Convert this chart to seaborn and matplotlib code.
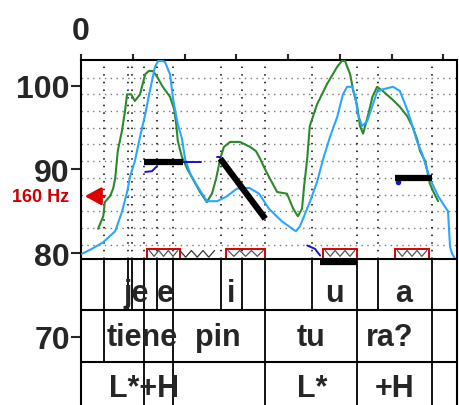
import numpy as np
import matplotlib
matplotlib.use("Agg")
import matplotlib.pyplot as plt
import seaborn as sns

# ---- data (time in s, pitch in semitones-like scale) ----
time_blue = [0.002, 0.021, 0.043, 0.066, 0.079, 0.089, 0.095, 0.104, 0.114, 0.124, 0.133, 0.143,
             0.149, 0.157, 0.162, 0.172, 0.178, 0.187, 0.195, 0.201, 0.211, 0.222, 0.234, 0.243,
             0.263, 0.282, 0.301, 0.325, 0.344, 0.363, 0.388, 0.415, 0.423, 0.442, 0.456, 0.468,
             0.481, 0.495, 0.506, 0.514, 0.524, 0.530, 0.535, 0.543, 0.553, 0.564, 0.572, 0.583,
             0.603, 0.616, 0.630, 0.641, 0.649, 0.659, 0.674, 0.690, 0.709, 0.713, 0.717, 0.722]
pitch_blue = [79.9, 80.5, 81.3, 82.6, 84.9, 87.3, 89.2, 91.0, 93.9, 96.6, 99.4, 102.3,
              103.0, 103.0, 102.9, 101.4, 98.4, 95.4, 93.7, 91.3, 89.5, 88.3, 87.1, 86.2,
              86.2, 86.8, 87.7, 87.8, 87.1, 85.3, 83.8, 82.6, 83.2, 86.1, 88.5, 91.3,
              93.9, 96.3, 99.0, 99.9, 99.9, 98.7, 96.6, 95.2, 95.8, 97.8, 99.3, 99.6,
              99.9, 99.4, 97.2, 95.1, 93.4, 91.9, 88.9, 86.8, 85.0, 80.7, 79.9, 79.4]

time_green = [0.033, 0.043, 0.046, 0.056, 0.062, 0.066, 0.071, 0.079, 0.085, 0.089, 0.097, 0.104,
              0.114, 0.124, 0.131, 0.139, 0.147, 0.158, 0.172, 0.180, 0.184, 0.187, 0.195, 0.205,
              0.214, 0.230, 0.243, 0.253, 0.261, 0.269, 0.276, 0.288, 0.307, 0.327, 0.338, 0.346,
              0.355, 0.365, 0.379, 0.398, 0.410, 0.419, 0.427, 0.431, 0.437, 0.442, 0.456, 0.475,
              0.495, 0.504, 0.510, 0.520, 0.526, 0.533, 0.539, 0.545, 0.555, 0.563, 0.572, 0.583,
              0.603, 0.616, 0.630, 0.640, 0.649, 0.655, 0.665, 0.674, 0.681, 0.690]
pitch_green = [82.9, 84.4, 86.1, 86.8, 87.7, 88.9, 92.2, 94.6, 97.0, 99.0, 99.0, 98.2,
               99.0, 101.4, 101.8, 101.8, 101.1, 99.9, 98.7, 97.2, 95.4, 93.4, 91.5, 90.1,
               89.1, 87.3, 86.1, 87.1, 88.9, 91.3, 92.7, 93.3, 93.3, 92.7, 92.2, 91.3,
               90.1, 88.9, 87.3, 87.1, 85.3, 84.4, 85.3, 88.0, 91.3, 95.2, 97.8, 100.2,
               102.3, 103.0, 103.0, 101.4, 99.4, 97.8, 95.2, 94.3, 96.6, 98.7, 99.9, 99.4,
               98.3, 97.5, 96.4, 95.2, 93.7, 92.2, 91.0, 88.3, 87.3, 86.2]

# stylized pitch targets (black bars)
target_t0 = [0.122, 0.269, 0.607, 0.462]
target_t1 = [0.197, 0.356, 0.678, 0.533]
target_v0 = [90.9, 91.3, 89.0, 78.9]
target_v1 = [90.9, 84.1, 89.0, 78.9]

# small dark-blue traces
hook_t = [0.124, 0.137, 0.147]
hook_v = [89.7, 89.8, 90.4]
cont_t = [0.197, 0.232]
cont_v = [90.9, 90.9]
tick_t = [0.263, 0.269]
tick_v = [91.5, 91.5]
low_t = [0.437, 0.452, 0.462]
low_v = [80.9, 80.5, 79.7]
dot_t = [0.612]
dot_v = [88.5]

# red boxes at the bottom of the pitch panel
box_t0 = [0.128, 0.280, 0.468, 0.607]
box_t1 = [0.191, 0.356, 0.533, 0.672]
zig_t0, zig_t1 = 0.191, 0.258

# tiers
phone_bounds = [0.044, 0.091, 0.099, 0.122, 0.147, 0.178, 0.270, 0.311, 0.356,
                0.446, 0.533, 0.574, 0.678]
phone_labels = ['je', 'e', 'i', 'u', 'a']
phone_pos = [0.106, 0.162, 0.290, 0.489, 0.624]
word_bounds = [0.044, 0.122, 0.178, 0.356, 0.533, 0.678]
word_labels = ['tiene', 'pin', 'tu', 'ra?']
word_pos = [0.118, 0.265, 0.445, 0.596]
tone_bounds = [0.122, 0.178, 0.356, 0.533, 0.678]
tone_labels = ['L*+H', 'L*', '+H']
tone_pos = [0.122, 0.446, 0.605]

grid_levels = [81, 83, 85, 87, 89, 91, 93, 95, 97, 99, 101]
y_ticks = [70, 80, 90, 100]
x_ticks = [0, 0.1, 0.2, 0.3, 0.4, 0.5, 0.6, 0.7]
ref_level = 86.8

# ---- plotting ----
sns.set_style("white")
plt.rcParams['font.family'] = ['Liberation Sans', 'DejaVu Sans']

fig = plt.figure(figsize=(4.59, 4.06), dpi=100)
ax = fig.add_axes([81 / 459, 0, 376 / 459, 345 / 406])
ax.set_xlim(0, 0.7264)
ax.set_ylim(61.8, 103.11)

panel_bottom = 79.3
row1_bottom = 73.15
row2_bottom = 66.95

# dotted grid
for g in grid_levels:
    ax.plot([0, 0.7264], [g, g], color='#777777', lw=1.0, ls=(0, (1, 3.2)), zorder=1)
for b in phone_bounds:
    ax.plot([b, b], [panel_bottom, 103.11], color='black', lw=1.1, ls=(0, (1, 4)), zorder=1)

# pitch curves
sns.lineplot(x=time_green, y=pitch_green, color='#2a8a2a', lw=1.5, estimator=None,
             sort=False, ax=ax, zorder=3)
sns.lineplot(x=time_blue, y=pitch_blue, color='#2aa6ff', lw=1.5, estimator=None,
             sort=False, ax=ax, zorder=3)

# dark blue traces
for tt, vv in [(hook_t, hook_v), (cont_t, cont_v), (tick_t, tick_v), (low_t, low_v)]:
    ax.plot(tt, vv, color='#1515cc', lw=1.4, zorder=4)
ax.plot(dot_t, dot_v, 'o', color='#1515cc', ms=3, zorder=4)

# black targets
for a0, a1, b0, b1 in zip(target_t0, target_t1, target_v0, target_v1):
    ax.plot([a0, a1], [b0, b1], color='black', lw=4.5, solid_capstyle='butt', zorder=5)

# red boxes with zigzags
for a0, a1 in zip(box_t0, box_t1):
    ax.add_patch(plt.Rectangle((a0, panel_bottom), a1 - a0, 1.2, fill=False,
                               edgecolor='#dd0000', lw=1.4, zorder=4))
    zx = np.linspace(a0 + 0.004, a1 - 0.004, 7)
    zy = np.where(np.arange(7) % 2 == 0, 80.3, 79.6)
    ax.plot(zx, zy, color='#555555', lw=0.9, zorder=4)
zx = np.linspace(zig_t0, zig_t1, 7)
zy = np.where(np.arange(7) % 2 == 0, 80.3, 79.5)
ax.plot(zx, zy, color='#333333', lw=0.9, zorder=4)

# tier lines
for lv in [panel_bottom, row1_bottom, row2_bottom]:
    ax.plot([0, 0.7264], [lv, lv], color='black', lw=1.5, zorder=6)
for b in phone_bounds:
    ax.plot([b, b], [row1_bottom, panel_bottom], color='black', lw=1.3, zorder=6)
for b in word_bounds:
    ax.plot([b, b], [row2_bottom, row1_bottom], color='black', lw=1.3, zorder=6)
for b in tone_bounds:
    ax.plot([b, b], [61.8, row2_bottom], color='black', lw=1.3, zorder=6)

# tier labels
for lab, p in zip(phone_labels, phone_pos):
    ax.text(p, 74.3, lab, ha='center', va='baseline', fontsize=22, fontweight='bold', zorder=7)
for lab, p in zip(word_labels, word_pos):
    ax.text(p, 69.0, lab, ha='center', va='baseline', fontsize=22, fontweight='bold', zorder=7)
for lab, p in zip(tone_labels, tone_pos):
    ax.text(p, 62.9, lab, ha='center', va='baseline', fontsize=22, fontweight='bold', zorder=7)

# reference arrow
ax.annotate('', xy=(0.002, ref_level), xytext=(0.050, ref_level),
            arrowprops=dict(arrowstyle='-|>,head_length=0.55,head_width=0.3',
                            color='#dd0000', lw=2, mutation_scale=18), zorder=8)
ax.text(-0.079, ref_level, '160 Hz', color='#cc0000', ha='center', va='center',
        fontsize=13, fontweight='bold', clip_on=False)

# axes styling
ax.xaxis.tick_top()
ax.set_xticks(x_ticks)
ax.set_xticklabels(['0'] + [''] * (len(x_ticks) - 1))
ax.tick_params(axis='x', top=True, bottom=False, direction='out', length=4, width=1.5,
               pad=6, labelsize=23)
ax.set_yticks(y_ticks)
ax.set_yticklabels([str(v) for v in y_ticks])
ax.tick_params(axis='y', left=True, direction='out', length=7, width=1.5, pad=1, labelsize=23)
for lbl in ax.get_xticklabels() + ax.get_yticklabels():
    lbl.set_fontweight('bold')
ax.spines['bottom'].set_visible(False)
for s in ['left', 'top', 'right']:
    ax.spines[s].set_linewidth(1.5)
    ax.spines[s].set_color('black')
ax.set_xlabel('')
ax.set_ylabel('')

fig.savefig('out.png', dpi=100)
